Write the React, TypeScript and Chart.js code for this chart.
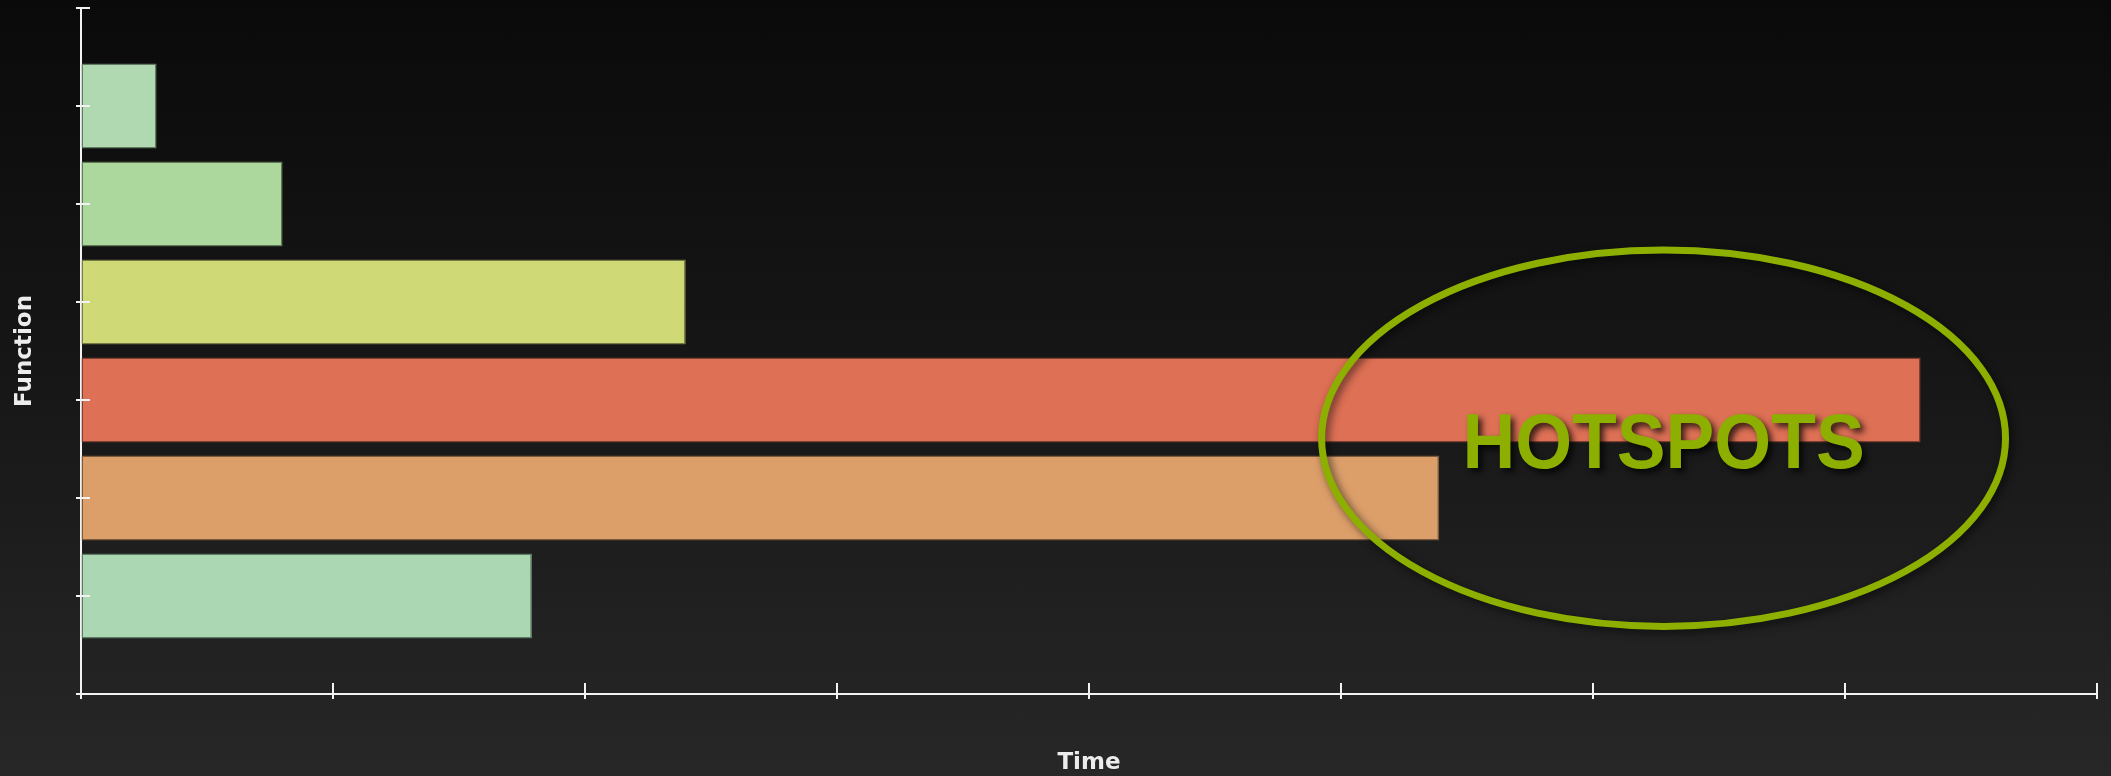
import { useEffect, useRef } from 'react';
import { Chart, registerables } from 'chart.js';

Chart.register(...registerables);

// Profile of time spent per function, one bar per function slot (top = first)
const functionSlots = [6, 5, 4, 3, 2, 1];
const timeValues = [0.3, 0.8, 2.4, 7.3, 5.39, 1.79];
const barColors = ['#b1d9b1', '#acd89e', '#cfd975', '#dd7055', '#dc9f6a', '#abd8b3'];
const barEdgeColors = ['#627a62', '#5f7a56', '#767a45', '#7c3f30', '#7a5a3c', '#5f7a64'];

const timeMin = 0;
const timeMax = 8;
const slotMin = 0;
const slotMax = 7;

const xTitle = 'Time';
const yTitle = 'Function';

// Hotspot annotation, placed in data units (time, slot)
const hotspotLabel = 'HOTSPOTS';
const hotspotTime = 6.28;
const hotspotSlot = 2.61;
const hotspotLabelSlot = 2.59;
const hotspotRadiusTime = 1.357;
const hotspotRadiusSlot = 1.92;

const accentGreen = '#8db000';
const axisWhite = '#f2f2f2';

const crossTicksPlugin = {
  id: 'crossTicks',
  afterDraw(chart: any) {
    const { ctx, scales } = chart;
    const x = scales.x;
    const y = scales.y;
    const axisY = y.getPixelForValue(slotMin);
    const axisX = x.getPixelForValue(timeMin);
    ctx.save();
    ctx.strokeStyle = axisWhite;
    ctx.lineWidth = 2;
    ctx.beginPath();
    x.ticks.forEach((_t: any, i: number) => {
      const px = Math.round(x.getPixelForTick(i));
      ctx.moveTo(px, axisY - 11);
      ctx.lineTo(px, axisY + 5);
    });
    y.ticks.forEach((_t: any, i: number) => {
      const py = Math.round(y.getPixelForTick(i));
      ctx.moveTo(axisX - 5, py);
      ctx.lineTo(axisX + 9, py);
    });
    ctx.stroke();
    ctx.restore();
  },
};

const hotspotPlugin = {
  id: 'hotspot',
  afterDatasetsDraw(chart: any) {
    const { ctx, scales } = chart;
    const x = scales.x;
    const y = scales.y;
    const cx = x.getPixelForValue(hotspotTime);
    const cy = y.getPixelForValue(hotspotSlot);
    const rx = Math.abs(x.getPixelForValue(hotspotTime + hotspotRadiusTime) - cx);
    const ry = Math.abs(y.getPixelForValue(hotspotSlot + hotspotRadiusSlot) - cy);

    ctx.save();
    ctx.shadowColor = 'rgba(0,0,0,0.6)';
    ctx.shadowBlur = 8;
    ctx.shadowOffsetX = 3;
    ctx.shadowOffsetY = 3;
    ctx.strokeStyle = accentGreen;
    ctx.lineWidth = 7;
    ctx.beginPath();
    ctx.ellipse(cx, cy, rx, ry, 0, 0, Math.PI * 2);
    ctx.stroke();

    // Slightly condensed bold caption centred in the ellipse
    const size = 77;
    const ty = y.getPixelForValue(hotspotLabelSlot);
    ctx.translate(cx, ty + (size * 0.716) / 2);
    ctx.scale(0.95, 1);
    ctx.font = `bold ${size}px "Liberation Sans", Arial, sans-serif`;
    ctx.textAlign = 'center';
    ctx.textBaseline = 'alphabetic';
    ctx.fillStyle = accentGreen;
    ctx.shadowColor = 'rgba(0,0,0,0.75)';
    ctx.shadowBlur = 6;
    ctx.shadowOffsetX = 4;
    ctx.shadowOffsetY = 4;
    ctx.fillText(hotspotLabel, 0, 0);
    ctx.restore();
  },
};

export default function App() {
  const canvasRef = useRef<HTMLCanvasElement>(null);

  useEffect(() => {
    const canvas = canvasRef.current;
    if (!canvas) return;
    const titleFont = {
      family: '"DejaVu Sans", sans-serif',
      size: 23,
      weight: 'bold' as const,
      lineHeight: 1,
    };
    const chart = new Chart(canvas, {
      type: 'bar',
      data: {
        datasets: [
          {
            data: functionSlots.map((slot, i) => ({ x: timeValues[i], y: slot })),
            backgroundColor: barColors,
            borderColor: barEdgeColors,
            borderWidth: 1.5,
            borderSkipped: false,
            categoryPercentage: 1,
            barPercentage: 0.867,
          },
        ],
      },
      options: {
        indexAxis: 'y',
        animation: false,
        responsive: false,
        events: [],
        layout: { padding: { top: 8, right: 14, left: 0, bottom: 0 } },
        plugins: {
          legend: { display: false },
          tooltip: { enabled: false },
        },
        scales: {
          x: {
            type: 'linear',
            min: timeMin,
            max: timeMax,
            z: 1,
            ticks: { display: false, stepSize: 1 },
            grid: { display: true, drawOnChartArea: false, drawTicks: false, color: 'rgba(0,0,0,0)' },
            border: { display: true, color: axisWhite, width: 2 },
            title: {
              display: true,
              text: xTitle,
              color: '#ececec',
              font: titleFont,
              padding: { top: 0, bottom: 1.5 },
            },
            afterFit: (scale: any) => {
              scale.height = 82;
            },
          },
          y: {
            type: 'linear',
            min: slotMin,
            max: slotMax,
            offset: false,
            z: 1,
            ticks: { display: false, stepSize: 1 },
            grid: { display: true, offset: false, drawOnChartArea: false, drawTicks: false, color: 'rgba(0,0,0,0)' },
            border: { display: true, color: axisWhite, width: 2 },
            title: {
              display: true,
              text: yTitle,
              color: '#ececec',
              font: titleFont,
              padding: { top: 14, bottom: 0 },
            },
            afterFit: (scale: any) => {
              scale.width = 81;
            },
          },
        },
      },
      plugins: [hotspotPlugin, crossTicksPlugin],
    } as any);
    return () => chart.destroy();
  }, []);

  return (
    <div
      style={{
        position: 'fixed',
        left: 0,
        top: 0,
        width: 2111,
        height: 776,
        background: 'linear-gradient(to bottom, #0a0a0a 0%, #171717 50%, #272727 100%)',
      }}
    >
      <canvas ref={canvasRef} width={2111} height={776} style={{ display: 'block' }} />
    </div>
  );
}
